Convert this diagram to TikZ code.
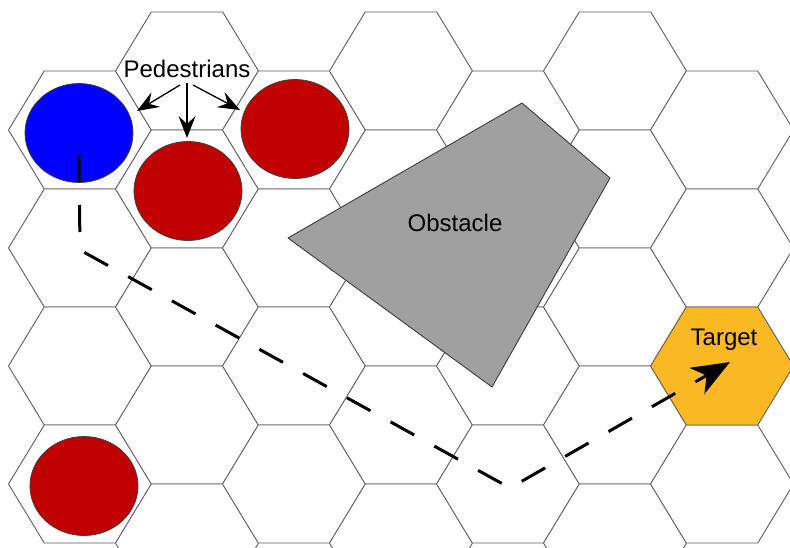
\documentclass[tikz,border=0pt]{standalone}
\usepackage{fontspec}
\setmainfont{Liberation Sans}
\usetikzlibrary{arrows.meta,shapes.geometric}
\definecolor{hexline}{RGB}{95,95,95}
\definecolor{pedred}{RGB}{192,0,0}
\definecolor{pedblue}{RGB}{0,0,255}
\definecolor{obsgray}{RGB}{160,160,160}
\definecolor{obsline}{RGB}{60,60,60}
\definecolor{targetgold}{RGB}{250,185,35}
\tikzset{
  hexcell/.style={draw=hexline, line width=0.9pt, fill=white, line join=round},
  targetcell/.style={hexcell, fill=targetgold},
  pedestrian/.style={ellipse, draw=black!75, line width=0.8pt, minimum width=108pt, minimum height=99pt, inner sep=0pt},
  lbl/.style={font=\fontsize{24}{28}\selectfont, inner sep=0pt, text=black},
  pointer/.style={line width=1.3pt, -{Stealth[length=22pt,width=17pt,inset=8pt]}},
  route/.style={line width=3pt, dash pattern=on 27pt off 23pt, -{Stealth[length=38pt,width=30pt,inset=11pt]}},
  obstacle/.style={fill=obsgray, draw=obsline, line width=0.9pt, line join=round}
}
\begin{document}
\begin{tikzpicture}[x=1pt,y=-1pt]
\useasboundingbox (0,0) rectangle (790,547);
\fill[white] (0,0) rectangle (790,547);
\clip (0,0) rectangle (790,547);
% hexagonal grid
\foreach \cx/\cy in {80/130,80/248,80/366,80/484,
  187/71,187/189,187/307,187/425,187/543,
  294/130,294/248,294/366,294/484,
  401/71,401/189,401/307,401/425,401/543,
  508/130,508/248,508/366,508/484,
  615/71,615/189,615/307,615/425,615/543,
  722/130,722/248,722/484}
  \draw[hexcell, shift={(\cx,\cy)}] (-71.5,0) -- (-35.75,-59) -- (35.75,-59) -- (71.5,0) -- (35.75,59) -- (-35.75,59) -- cycle;
% target cell
\draw[targetcell, shift={(722,366)}] (-71.5,0) -- (-35.75,-59) -- (35.75,-59) -- (71.5,0) -- (35.75,59) -- (-35.75,59) -- cycle;
% obstacle
\draw[obstacle] (288,238) -- (522,103) -- (610,178) -- (492,387) -- cycle;
\node[lbl] (obs) at (455,231) [anchor=base] {Obstacle};
% pedestrians
\node[pedestrian, fill=pedblue] (pb) at (79,133) {};
\node[pedestrian, fill=pedred] (pr1) at (188,191) {};
\node[pedestrian, fill=pedred] (pr2) at (295,129) {};
\node[pedestrian, fill=pedred] (pr3) at (84,486) {};
% label and pointers
\node[lbl, anchor=base] (pedlabel) at (187,77) {Pedestrians};
\coordinate (s1) at (180,85);
\coordinate (e1) at (137,111);
\coordinate (s2) at (187,83);
\coordinate (e2) at (187,138);
\coordinate (s3) at (193,85);
\coordinate (e3) at (240,110);
\draw[pointer] (s1) -- (e1);
\draw[pointer] (s2) -- (e2);
\draw[pointer] (s3) -- (e3);
% target label
\node[lbl, anchor=base] (tlabel) at (724,345) {Target};
% route
\coordinate (r0) at (79,155);
\coordinate (r1) at (80,250);
\coordinate (r2) at (510,488);
\coordinate (r3) at (730,362);
\draw[route] (r0) -- (r1) -- (r2) -- (r3);
\end{tikzpicture}
\end{document}
